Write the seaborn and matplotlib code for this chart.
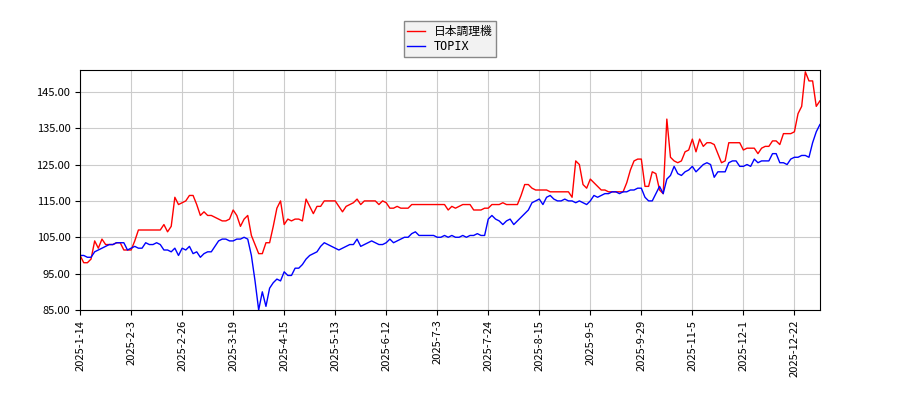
import numpy as np
import pandas as pd
import matplotlib
matplotlib.use("Agg")
import matplotlib.pyplot as plt
import seaborn as sns

# 日本調理機 vs TOPIX (index 100 = 2025-1-14)
tick_labels = ["2025-1-14", "2025-2-3", "2025-2-26", "2025-3-19", "2025-4-15", "2025-5-13",
               "2025-6-12", "2025-7-3", "2025-7-24", "2025-8-15", "2025-9-5", "2025-9-29",
               "2025-11-5", "2025-12-1", "2025-12-22"]

stock = [100, 98, 98, 99, 104, 102, 104.5, 103, 103, 103, 103.5, 103.5, 101.5, 101.5,
         101.5, 104, 107, 107, 107, 107, 107, 107, 107, 108.5, 106.5, 108, 116, 114,
         114.5, 115, 116.5, 116.5, 114, 111, 112, 111, 111, 110.5, 110, 109.5, 109.5, 110,
         112.5, 111, 108, 110, 111, 105.5, 103, 100.5, 100.5, 103.5, 103.5, 108, 113, 115,
         108.5, 110, 109.5, 110, 110, 109.5, 115.5, 113.5, 111.5, 113.5, 113.5, 115, 115, 115,
         115, 113.5, 112, 113.5, 114, 114.5, 115.5, 114, 115, 115, 115, 115, 114, 115,
         114.5, 113, 113, 113.5, 113, 113, 113, 114, 114, 114, 114, 114, 114, 114,
         114, 114, 114, 112.5, 113.5, 113, 113.5, 114, 114, 114, 112.5, 112.5, 112.5, 113,
         113, 114, 114, 114, 114.5, 114, 114, 114, 114, 116.5, 119.5, 119.5, 118.5, 118,
         118, 118, 118, 117.5, 117.5, 117.5, 117.5, 117.5, 117.5, 116, 126, 125, 119.5, 118.5,
         121, 120, 119, 118, 118, 117.5, 117.5, 117.5, 117.5, 117.5, 120, 123.5, 126, 126.5,
         126.5, 119, 119, 123, 122.5, 118, 117, 137.5, 127, 126, 125.5, 126, 128.5, 129,
         132, 128.5, 132, 130, 131, 131, 130.5, 128, 125.5, 126, 131, 131, 131, 131,
         129, 129.5, 129.5, 129.5, 128, 129.5, 130, 130, 131.5, 131.5, 130.5, 133.5, 133.5, 133.5,
         134, 139, 141, 150.5, 148, 148, 141, 142.5]

topix = [100, 100, 99.5, 99.5, 101, 101.5, 102, 102.5, 103, 103, 103.5, 103.5, 103.5, 101.5,
         102, 102.5, 102, 102, 103.5, 103, 103, 103.5, 103, 101.5, 101.5, 101, 102, 100,
         102, 101.5, 102.5, 100.5, 101, 99.5, 100.5, 101, 101, 102.5, 104, 104.5, 104.5, 104,
         104, 104.5, 104.5, 105, 104.5, 100, 93, 85, 90, 86, 91, 92.5, 93.5, 93,
         95.5, 94.5, 94.5, 96.5, 96.5, 97.5, 99, 100, 100.5, 101, 102.5, 103.5, 103, 102.5,
         102, 101.5, 102, 102.5, 103, 103, 104.5, 102.5, 103, 103.5, 104, 103.5, 103, 103,
         103.5, 104.5, 103.5, 104, 104.5, 105, 105, 106, 106.5, 105.5, 105.5, 105.5, 105.5, 105.5,
         105, 105, 105.5, 105, 105.5, 105, 105, 105.5, 105, 105.5, 105.5, 106, 105.5, 105.5,
         110, 111, 110, 109.5, 108.5, 109.5, 110, 108.5, 109.5, 110.5, 111.5, 112.5, 114.5, 115,
         115.5, 114, 116, 116.5, 115.5, 115, 115, 115.5, 115, 115, 114.5, 115, 114.5, 114,
         115, 116.5, 116, 116.5, 117, 117, 117.5, 117.5, 117, 117.5, 117.5, 118, 118, 118.5,
         118.5, 116, 115, 115, 117, 119, 117, 121, 122, 124.5, 122.5, 122, 123, 123.5,
         124.5, 123, 124, 125, 125.5, 125, 121.5, 123, 123, 123, 125.5, 126, 126, 124.5,
         124.5, 125, 124.5, 126.5, 125.5, 126, 126, 126, 128, 128, 125.5, 125.5, 125, 126.5,
         127, 127, 127.5, 127.5, 127, 131, 134, 136]

df = pd.DataFrame({"x": np.arange(len(stock)), "日本調理機": stock, "TOPIX": topix})
long = df.melt(id_vars="x", var_name="name", value_name="value")

plt.rcParams['font.family'] = ['Noto Sans CJK JP', 'DejaVu Sans']
fig = plt.figure(figsize=(9, 4), dpi=100)
ax = fig.add_axes([0.089, 0.225, 0.822, 0.6])

sns.lineplot(data=long, x="x", y="value", hue="name",
             palette={"日本調理機": "red", "TOPIX": "blue"}, linewidth=1, ax=ax)

ax.set_xlim(0, len(stock) - 1)
ax.set_ylim(85, 151)
ax.set_yticks(np.arange(85, 150, 10))
ax.set_yticklabels([f"{v:.2f}" for v in np.arange(85, 150, 10)], fontsize=8)
ax.set_xticks(np.arange(len(tick_labels)) * 14)
ax.set_xticklabels(tick_labels, rotation=90, fontsize=8)
ax.set_xlabel("")
ax.set_ylabel("")
ax.grid(True, color="#cccccc", linewidth=0.8)
ax.set_axisbelow(True)
leg = ax.legend(title=None, loc="lower center", bbox_to_anchor=(0.5, 1.03), fontsize=8.5,
                handlelength=1.5, borderpad=0.3, labelspacing=0.2,
                fancybox=False, edgecolor="#888888", facecolor="#f2f2f2", framealpha=1)
for t in leg.get_texts():
    t.set_family(['DejaVu Sans Mono', 'Noto Sans CJK JP'])

plt.savefig("out.png", dpi=100)
plt.close()
